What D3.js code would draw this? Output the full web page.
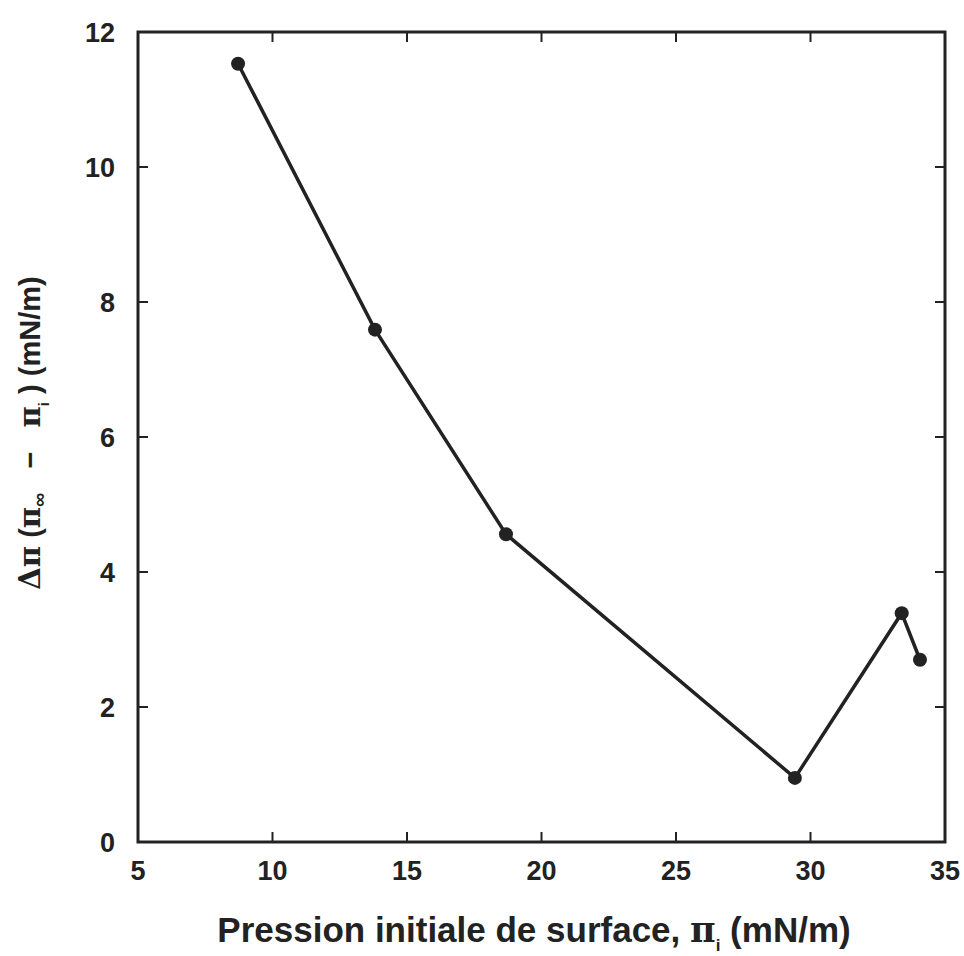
<!DOCTYPE html>
<html>
<head>
<meta charset="utf-8">
<script src="https://cdn.jsdelivr.net/npm/d3@7"></script>
<style>
  body { margin: 0; background: #fff; }
  text { font-family: "Liberation Sans", Arial, sans-serif; font-weight: bold; fill: #222; white-space: pre; }
</style>
</head>
<body>
<div id="chart"></div>
<script>
// initial surface pressure (mN/m) and the pressure change (mN/m)
const pressionInitiale = [8.72, 13.81, 18.68, 29.42, 33.39, 34.07];
const deltaPi = [11.53, 7.59, 4.56, 0.95, 3.39, 2.70];

const xTicks = [5, 10, 15, 20, 25, 30, 35];
const yTicks = [0, 2, 4, 6, 8, 10, 12];

const width = 964, height = 956;
const margin = {top: 32, right: 19, bottom: 114, left: 138};

const svg = d3.select("#chart").append("svg")
    .attr("width", width)
    .attr("height", height);

const x = d3.scaleLinear().domain([5, 35]).range([margin.left, width - margin.right]);
const y = d3.scaleLinear().domain([0, 12]).range([height - margin.bottom, margin.top]);

const ink = "#222";
const tickLen = 10;

// frame around the plot area
svg.append("rect")
    .attr("x", x(5)).attr("y", y(12))
    .attr("width", x(35) - x(5)).attr("height", y(0) - y(12))
    .attr("fill", "none").attr("stroke", ink).attr("stroke-width", 3);

// inward ticks on all four sides
const tickG = svg.append("g").attr("stroke", ink).attr("stroke-width", 2);
xTicks.slice(1, -1).forEach(t => {
    tickG.append("line").attr("x1", x(t)).attr("x2", x(t)).attr("y1", y(0)).attr("y2", y(0) - tickLen);
    tickG.append("line").attr("x1", x(t)).attr("x2", x(t)).attr("y1", y(12)).attr("y2", y(12) + tickLen);
});
yTicks.slice(1, -1).forEach(t => {
    tickG.append("line").attr("x1", x(5)).attr("x2", x(5) + tickLen).attr("y1", y(t)).attr("y2", y(t));
    tickG.append("line").attr("x1", x(35)).attr("x2", x(35) - tickLen).attr("y1", y(t)).attr("y2", y(t));
});

// tick labels
svg.append("g").selectAll("text")
    .data(xTicks).enter().append("text")
    .attr("x", d => x(d))
    .attr("y", y(0) + 38)
    .attr("text-anchor", "middle")
    .attr("font-size", 27)
    .text(d => d);

svg.append("g").selectAll("text")
    .data(yTicks).enter().append("text")
    .attr("x", x(5) - 23)
    .attr("y", d => y(d) + 10)
    .attr("text-anchor", "end")
    .attr("font-size", 27)
    .text(d => d);

// data line and markers
const line = d3.line()
    .x((d, i) => x(pressionInitiale[i]))
    .y(d => y(d));

svg.append("path")
    .datum(deltaPi)
    .attr("d", line)
    .attr("fill", "none")
    .attr("stroke", ink)
    .attr("stroke-width", 3.5);

svg.append("g").selectAll("circle")
    .data(deltaPi).enter().append("circle")
    .attr("cx", (d, i) => x(pressionInitiale[i]))
    .attr("cy", d => y(d))
    .attr("r", 7)
    .attr("fill", ink);

// axis titles
const xTitle = svg.append("text")
    .attr("x", 534)
    .attr("y", 942)
    .attr("text-anchor", "middle")
    .attr("font-size", 35);
xTitle.append("tspan").text("Pression initiale de surface, ");
xTitle.append("tspan").attr("font-family", "DejaVu Serif").text("π");
xTitle.append("tspan").attr("font-size", 17).attr("dy", 9).text("i");
xTitle.append("tspan").attr("dy", -9).text(" (mN/m)");

const yTitle = svg.append("text")
    .attr("transform", `translate(40, 433) rotate(-90)`)
    .attr("text-anchor", "middle")
    .attr("font-size", 29);
yTitle.append("tspan").attr("font-family", "DejaVu Serif").text("Δπ");
yTitle.append("tspan").text(" (");
yTitle.append("tspan").attr("font-family", "DejaVu Serif").text("π");
yTitle.append("tspan").attr("font-size", 20).attr("dy", 6).text("∞");
yTitle.append("tspan").attr("dy", -6).text("   −   ");
yTitle.append("tspan").attr("font-family", "DejaVu Serif").text("π");
yTitle.append("tspan").attr("font-size", 15).attr("dy", 9).text("i");
yTitle.append("tspan").attr("dy", -9).text(" ) (mN/m)");
</script>
</body>
</html>
